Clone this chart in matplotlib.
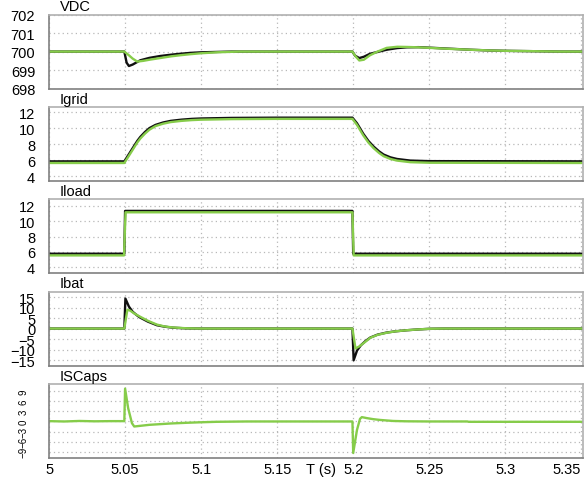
import numpy as np
import matplotlib
matplotlib.use('Agg')
import matplotlib.pyplot as plt
import matplotlib.transforms as mtransforms

# DC bus voltage
t_vdc_k = [5.0, 5.0495, 5.0510, 5.0525, 5.055, 5.060, 5.066, 5.073, 5.080, 5.086, 5.093, 5.100, 5.12,
           5.1995, 5.2012, 5.2040, 5.2070, 5.211, 5.216, 5.222, 5.229, 5.2353, 5.243, 5.2507, 5.26,
           5.277, 5.29, 5.301, 5.32, 5.336, 5.352]
vdc_k = [700, 700, 699.4, 699.22, 699.3, 699.53, 699.66, 699.76, 699.83, 699.88, 699.93, 699.96, 700,
         700, 699.78, 699.65, 699.72, 699.88, 699.98, 700.1, 700.19, 700.23, 700.24, 700.21, 700.17,
         700.1, 700.06, 700.04, 700.02, 700, 700]
t_vdc_g = [5.0, 5.0495, 5.0525, 5.055, 5.058, 5.062, 5.066, 5.073, 5.080, 5.086, 5.093, 5.100, 5.11, 5.125,
           5.1995, 5.2015, 5.2040, 5.207, 5.211, 5.216, 5.222, 5.229, 5.2353, 5.243, 5.2507, 5.26,
           5.277, 5.29, 5.301, 5.32, 5.336, 5.352]
vdc_g = [700, 700, 699.8, 699.62, 699.46, 699.5, 699.56, 699.65, 699.74, 699.8, 699.86, 699.91, 699.96, 700,
         700, 699.75, 699.52, 699.56, 699.8, 700.0, 700.2, 700.26, 700.25, 700.23, 700.2, 700.16,
         700.1, 700.06, 700.04, 700.02, 700, 700]

# grid current
t_igrid = [5.0, 5.0495, 5.052, 5.055, 5.058, 5.060, 5.063, 5.066, 5.070, 5.075, 5.080, 5.087, 5.094, 5.100,
           5.12, 5.15, 5.1995, 5.2025, 5.2066, 5.210, 5.2134, 5.217, 5.220, 5.2245, 5.2288, 5.2375,
           5.25, 5.352]
igrid_k = [5.85, 5.85, 6.6, 7.5, 8.4, 8.9, 9.5, 10.0, 10.4, 10.7, 10.9, 11.05, 11.15, 11.2,
           11.27, 11.3, 11.3, 10.6, 9.3, 8.4, 7.7, 7.1, 6.7, 6.35, 6.15, 5.95,
           5.88, 5.85]
igrid_g = [5.65, 5.65, 6.4, 7.3, 8.2, 8.7, 9.3, 9.8, 10.25, 10.55, 10.75, 10.9, 11.0, 11.05,
           11.12, 11.15, 11.15, 10.4, 9.1, 8.2, 7.5, 6.9, 6.5, 6.15, 5.95, 5.75,
           5.68, 5.65]

# load current
t_iload_k = [5.0, 5.0495, 5.0500, 5.1995, 5.2000, 5.352]
iload_k = [5.75, 5.75, 11.35, 11.35, 5.75, 5.75]
t_iload_g = [5.0, 5.0493, 5.0503, 5.1995, 5.2003, 5.352]
iload_g = [5.53, 5.53, 11.17, 11.17, 5.53, 5.53]

# battery current
t_ibat_k = [5.0, 5.0495, 5.0502, 5.0525, 5.055, 5.058, 5.060, 5.065, 5.0709, 5.076, 5.0817, 5.09, 5.10,
            5.1995, 5.2003, 5.2025, 5.205, 5.208, 5.2112, 5.216, 5.222, 5.228, 5.2353, 5.243, 5.2507,
            5.26, 5.352]
ibat_k = [0, 0, 14.3, 10.5, 8.0, 6.2, 5.2, 3.3, 1.6, 0.9, 0.4, 0.1, 0,
          0, -15.1, -10.5, -8.0, -6.0, -4.3, -2.9, -1.9, -1.3, -0.8, -0.4, -0.1,
          0, 0]
t_ibat_g = [5.0, 5.0495, 5.0515, 5.0535, 5.056, 5.060, 5.065, 5.0709, 5.076, 5.0817, 5.09, 5.10,
            5.1995, 5.2015, 5.204, 5.208, 5.2112, 5.216, 5.222, 5.228, 5.2353, 5.243, 5.2507,
            5.26, 5.352]
ibat_g = [0, 0, 9.0, 8.5, 7.2, 5.6, 3.7, 1.9, 1.0, 0.5, 0.15, 0,
          0, -9.5, -8.5, -6.3, -4.4, -3.0, -2.0, -1.3, -0.8, -0.4, -0.1,
          0, 0]

# supercapacitor current
t_isc = [5.0, 5.01, 5.02, 5.03, 5.04, 5.0495, 5.0500, 5.052, 5.0545, 5.056, 5.060, 5.066, 5.073, 5.080,
         5.09, 5.099, 5.11, 5.13, 5.1995, 5.2000, 5.2025, 5.2045, 5.2057, 5.209, 5.213, 5.2178,
         5.2263, 5.235, 5.25, 5.275, 5.276, 5.352]
isc = [0.1, 0.0, 0.15, 0.05, 0.1, 0.1, 9.8, 4.0, -0.5, -1.5, -1.3, -1.0, -0.8, -0.6,
       -0.4, -0.25, -0.1, 0.0, 0.0, -9.4, -2.5, 0.8, 1.3, 1.0, 0.7, 0.45,
       0.15, 0.05, 0.0, 0.0, -0.1, -0.1]

xticks = [5, 5.05, 5.1, 5.15, 5.2, 5.25, 5.3, 5.35]
xticklabels = ['5', '5.05', '5.1', '5.15', '5.2', '5.25', '5.3', '5.35']

green = '#86cc4a'
black = '#101010'

plt.rcParams['font.family'] = ['Liberation Sans', 'DejaVu Sans']
fig, axs = plt.subplots(5, 1, sharex=True, figsize=(5.84, 4.81), dpi=100)
fig.subplots_adjust(left=0.084, right=0.998, top=0.9676, bottom=0.0451, hspace=0.249)

panels = [
    ('VDC', [(t_vdc_k, vdc_k, black), (t_vdc_g, vdc_g, green)], (698, 702), [698, 699, 700, 701, 702]),
    ('Igrid', [(t_igrid, igrid_k, black), (t_igrid, igrid_g, green)], (3.4, 12.63), [4, 6, 8, 10, 12]),
    ('Iload', [(t_iload_k, iload_k, black), (t_iload_g, iload_g, green)], (3.17, 12.85), [4, 6, 8, 10, 12]),
    ('Ibat', [(t_ibat_k, ibat_k, black), (t_ibat_g, ibat_g, green)], (-17.8, 17.5), [-15, -10, -5, 0, 5, 10, 15]),
    ('ISCaps', [(t_isc, isc, green)], (-11.0, 11.1), [-9, -6, -3, 0, 3, 6, 9]),
]

for ax, (name, lines, ylim, yticks) in zip(axs, panels):
    for t, y, c in lines:
        ax.plot(t, y, color=c, lw=1.7, solid_joinstyle='round')
    ax.set_ylim(*ylim)
    ax.set_yticks(yticks)
    ax.set_xlim(5, 5.351)
    ax.grid(True, linestyle=(0, (1, 2.5)), color='#b8b8b8', lw=0.9)
    ax.tick_params(length=0, pad=10, labelsize=10.5)
    for side in ['top', 'right']:
        ax.spines[side].set_color('#b0b0b0')
    for side in ['left', 'bottom']:
        ax.spines[side].set_color('#808080')
    for s in ax.spines.values():
        s.set_linewidth(1.2)
    ax.text(0.02, 1.02, name, transform=ax.transAxes, ha='left', va='bottom', fontsize=10.5)

# ISCaps labels are turned on their side
for lab in axs[4].get_yticklabels():
    lab.set_rotation(90)
    lab.set_va('center')
    lab.set_fontsize(7)
axs[4].tick_params(axis='y', pad=15)

axs[4].set_xticks(xticks)
axs[4].set_xticklabels(xticklabels)
axs[4].tick_params(axis='x', pad=3, labelsize=10.5)
axs[4].get_xticklabels()[-1].set_ha('right')

trans = mtransforms.blended_transform_factory(axs[4].transData, axs[4].transAxes)
axs[4].text(5.179, -0.045, 'T (s)', transform=trans, ha='center', va='top', fontsize=10.5)

plt.savefig('out.png')
